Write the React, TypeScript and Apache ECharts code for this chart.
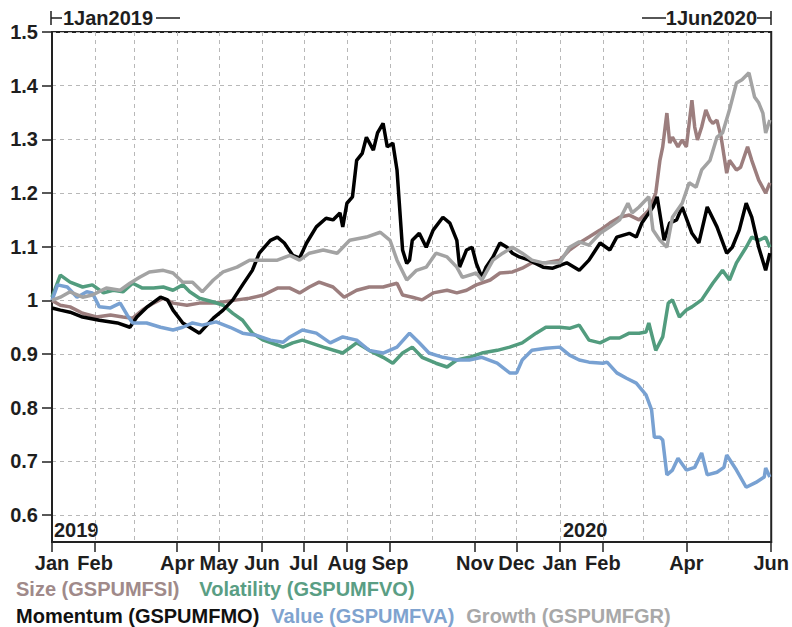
import React, { useEffect, useRef } from "react";
import * as echarts from "echarts";

const FONT = '"Liberation Sans", Arial, Helvetica, sans-serif';

const START_DATE = "2019-01-01";
const END_DATE = "2020-06-01";
const MONTH_NAMES = ["Jan", "Feb", "Mar", "Apr", "May", "Jun", "Jul", "Aug", "Sep", "Oct", "Nov", "Dec"];
const LABELED_MONTHS = [
  "2019-01", "2019-02", "2019-04", "2019-05", "2019-06", "2019-07", "2019-08", "2019-09",
  "2019-11", "2019-12", "2020-01", "2020-02", "2020-04", "2020-06",
];
const Y_TICKS = [0.6, 0.7, 0.8, 0.9, 1, 1.1, 1.2, 1.3, 1.4, 1.5];

const SERIES_NAMES = [
  "Size (GSPUMFSI)",
  "Volatility (GSPUMFVO)",
  "Momentum (GSPUMFMO)",
  "Value (GSPUMFVA)",
  "Growth (GSPUMFGR)",
];
const SERIES_COLORS = ["#9c7e7e", "#529c7e", "#000000", "#78a1d2", "#a3a3a3"];
const LEGEND_COLORS = ["#a08a8a", "#5a9e84", "#111111", "#7fa3cf", "#a8a8a8"];

const sizeData: [string, number][] = [
  ["2019-01-01", 1.0], ["2019-01-07", 0.991], ["2019-01-14", 0.988], ["2019-01-23", 0.976],
  ["2019-02-02", 0.969], ["2019-02-12", 0.973], ["2019-02-21", 0.969], ["2019-02-28", 0.967],
  ["2019-03-07", 0.982], ["2019-03-15", 0.995], ["2019-03-22", 1.004], ["2019-03-29", 0.995],
  ["2019-04-08", 0.991], ["2019-04-17", 0.995], ["2019-04-27", 0.995], ["2019-05-04", 0.997],
  ["2019-05-14", 1.001], ["2019-05-23", 1.004], ["2019-06-02", 1.01], ["2019-06-12", 1.023],
  ["2019-06-21", 1.023], ["2019-06-28", 1.014], ["2019-07-05", 1.025], ["2019-07-12", 1.034],
  ["2019-07-22", 1.025], ["2019-07-30", 1.006], ["2019-08-08", 1.019], ["2019-08-17", 1.025],
  ["2019-08-27", 1.025], ["2019-09-06", 1.032], ["2019-09-10", 1.01], ["2019-09-17", 1.006],
  ["2019-09-24", 1.001], ["2019-10-02", 1.014], ["2019-10-12", 1.019], ["2019-10-19", 1.014],
  ["2019-10-26", 1.019], ["2019-11-02", 1.029], ["2019-11-12", 1.038], ["2019-11-19", 1.051],
  ["2019-11-28", 1.053], ["2019-12-05", 1.06], ["2019-12-12", 1.07], ["2019-12-22", 1.07],
  ["2020-01-01", 1.075], ["2020-01-08", 1.094], ["2020-01-15", 1.107], ["2020-01-22", 1.118],
  ["2020-01-30", 1.131], ["2020-02-06", 1.144], ["2020-02-13", 1.155], ["2020-02-20", 1.159],
  ["2020-02-27", 1.15], ["2020-03-05", 1.168], ["2020-03-10", 1.2], ["2020-03-13", 1.261],
  ["2020-03-15", 1.286], ["2020-03-18", 1.349], ["2020-03-20", 1.293], ["2020-03-22", 1.304],
  ["2020-03-26", 1.286], ["2020-03-29", 1.299], ["2020-04-01", 1.286], ["2020-04-05", 1.373],
  ["2020-04-07", 1.323], ["2020-04-09", 1.299], ["2020-04-12", 1.323], ["2020-04-15", 1.355],
  ["2020-04-18", 1.336], ["2020-04-20", 1.33], ["2020-04-23", 1.336], ["2020-04-26", 1.304],
  ["2020-04-30", 1.237], ["2020-05-02", 1.261], ["2020-05-07", 1.243], ["2020-05-10", 1.248],
  ["2020-05-15", 1.286], ["2020-05-18", 1.261], ["2020-05-23", 1.224], ["2020-05-28", 1.2],
  ["2020-05-31", 1.219],
];

const volatilityData: [string, number][] = [
  ["2019-01-01", 1.006], ["2019-01-07", 1.047], ["2019-01-14", 1.034], ["2019-01-23", 1.025],
  ["2019-01-30", 1.029], ["2019-02-07", 1.014], ["2019-02-14", 1.019], ["2019-02-21", 1.016],
  ["2019-02-28", 1.032], ["2019-03-07", 1.023], ["2019-03-15", 1.023], ["2019-03-22", 1.025],
  ["2019-03-29", 1.019], ["2019-04-05", 1.029], ["2019-04-10", 1.016], ["2019-04-17", 1.004],
  ["2019-04-27", 0.997], ["2019-05-04", 0.991], ["2019-05-11", 0.976], ["2019-05-18", 0.963],
  ["2019-05-25", 0.939], ["2019-06-02", 0.926], ["2019-06-12", 0.917], ["2019-06-16", 0.913],
  ["2019-06-23", 0.921], ["2019-06-30", 0.926], ["2019-07-15", 0.913], ["2019-07-29", 0.902],
  ["2019-08-08", 0.921], ["2019-08-17", 0.907], ["2019-08-27", 0.894], ["2019-09-03", 0.883],
  ["2019-09-10", 0.902], ["2019-09-17", 0.913], ["2019-09-24", 0.894], ["2019-10-04", 0.883],
  ["2019-10-12", 0.876], ["2019-10-19", 0.889], ["2019-10-28", 0.894], ["2019-11-06", 0.902],
  ["2019-11-17", 0.907], ["2019-11-26", 0.913], ["2019-12-05", 0.921], ["2019-12-15", 0.939],
  ["2019-12-22", 0.95], ["2020-01-01", 0.95], ["2020-01-08", 0.948], ["2020-01-15", 0.954],
  ["2020-01-22", 0.926], ["2020-01-30", 0.921], ["2020-02-06", 0.93], ["2020-02-13", 0.93],
  ["2020-02-20", 0.939], ["2020-02-27", 0.939], ["2020-03-03", 0.941], ["2020-03-05", 0.958],
  ["2020-03-10", 0.907], ["2020-03-15", 0.932], ["2020-03-19", 0.995], ["2020-03-22", 1.001],
  ["2020-03-27", 0.969], ["2020-04-01", 0.982], ["2020-04-05", 0.988], ["2020-04-12", 1.001],
  ["2020-04-20", 1.032], ["2020-04-27", 1.056], ["2020-05-02", 1.038], ["2020-05-07", 1.07],
  ["2020-05-14", 1.099], ["2020-05-18", 1.118], ["2020-05-23", 1.112], ["2020-05-28", 1.118],
  ["2020-05-31", 1.099],
];

const momentumData: [string, number][] = [
  ["2019-01-01", 0.986], ["2019-01-07", 0.982], ["2019-01-14", 0.978], ["2019-01-23", 0.969],
  ["2019-02-04", 0.963], ["2019-02-17", 0.958], ["2019-02-26", 0.95], ["2019-03-03", 0.969],
  ["2019-03-10", 0.987], ["2019-03-20", 1.006], ["2019-03-25", 1.001], ["2019-03-29", 0.982],
  ["2019-04-05", 0.958], ["2019-04-17", 0.939], ["2019-04-27", 0.967], ["2019-05-04", 0.982],
  ["2019-05-11", 1.001], ["2019-05-18", 1.029], ["2019-05-25", 1.056], ["2019-05-30", 1.088],
  ["2019-06-07", 1.112], ["2019-06-12", 1.118], ["2019-06-17", 1.107], ["2019-06-23", 1.084],
  ["2019-06-28", 1.079], ["2019-07-03", 1.107], ["2019-07-10", 1.137], ["2019-07-17", 1.153],
  ["2019-07-22", 1.15], ["2019-07-27", 1.163], ["2019-07-29", 1.137], ["2019-08-01", 1.181],
  ["2019-08-05", 1.193], ["2019-08-08", 1.261], ["2019-08-12", 1.274], ["2019-08-15", 1.304],
  ["2019-08-20", 1.28], ["2019-08-23", 1.312], ["2019-08-27", 1.33], ["2019-08-30", 1.286],
  ["2019-09-03", 1.293], ["2019-09-06", 1.243], ["2019-09-10", 1.094], ["2019-09-13", 1.069],
  ["2019-09-15", 1.075], ["2019-09-17", 1.112], ["2019-09-22", 1.125], ["2019-09-27", 1.099],
  ["2019-10-02", 1.131], ["2019-10-09", 1.155], ["2019-10-14", 1.144], ["2019-10-19", 1.112],
  ["2019-10-21", 1.062], ["2019-10-26", 1.094], ["2019-10-30", 1.099], ["2019-11-02", 1.069],
  ["2019-11-06", 1.043], ["2019-11-09", 1.062], ["2019-11-14", 1.081], ["2019-11-19", 1.107],
  ["2019-11-24", 1.099], ["2019-11-28", 1.088], ["2019-12-03", 1.081], ["2019-12-10", 1.075],
  ["2019-12-20", 1.062], ["2019-12-27", 1.06], ["2020-01-06", 1.07], ["2020-01-15", 1.056],
  ["2020-01-22", 1.075], ["2020-01-30", 1.107], ["2020-02-06", 1.094], ["2020-02-11", 1.118],
  ["2020-02-20", 1.125], ["2020-02-25", 1.118], ["2020-02-29", 1.144], ["2020-03-08", 1.174],
  ["2020-03-11", 1.193], ["2020-03-16", 1.112], ["2020-03-20", 1.144], ["2020-03-25", 1.15],
  ["2020-03-29", 1.174], ["2020-04-05", 1.125], ["2020-04-10", 1.107], ["2020-04-16", 1.174],
  ["2020-04-23", 1.137], ["2020-04-30", 1.088], ["2020-05-04", 1.099], ["2020-05-09", 1.131],
  ["2020-05-14", 1.181], ["2020-05-18", 1.155], ["2020-05-23", 1.099], ["2020-05-28", 1.056],
  ["2020-05-31", 1.088],
];

const valueData: [string, number][] = [
  ["2019-01-01", 1.0], ["2019-01-05", 1.029], ["2019-01-12", 1.025], ["2019-01-19", 1.006],
  ["2019-01-26", 1.016], ["2019-01-30", 1.014], ["2019-02-04", 0.988], ["2019-02-12", 0.986],
  ["2019-02-19", 0.995], ["2019-02-24", 0.973], ["2019-02-28", 0.958], ["2019-03-10", 0.958],
  ["2019-03-20", 0.95], ["2019-03-29", 0.945], ["2019-04-05", 0.95], ["2019-04-12", 0.958],
  ["2019-04-19", 0.954], ["2019-04-29", 0.96], ["2019-05-09", 0.95], ["2019-05-18", 0.939],
  ["2019-05-28", 0.935], ["2019-06-07", 0.926], ["2019-06-16", 0.922], ["2019-06-21", 0.932],
  ["2019-06-30", 0.945], ["2019-07-10", 0.939], ["2019-07-20", 0.921], ["2019-07-29", 0.932],
  ["2019-08-08", 0.926], ["2019-08-17", 0.907], ["2019-08-27", 0.902], ["2019-09-06", 0.913],
  ["2019-09-15", 0.939], ["2019-09-22", 0.921], ["2019-09-29", 0.902], ["2019-10-09", 0.894],
  ["2019-10-19", 0.889], ["2019-10-28", 0.889], ["2019-11-06", 0.894], ["2019-11-17", 0.883],
  ["2019-11-26", 0.865], ["2019-12-01", 0.865], ["2019-12-05", 0.889], ["2019-12-12", 0.907],
  ["2019-12-22", 0.911], ["2020-01-01", 0.913], ["2020-01-08", 0.898], ["2020-01-15", 0.889],
  ["2020-01-22", 0.885], ["2020-02-01", 0.883], ["2020-02-04", 0.885], ["2020-02-11", 0.865],
  ["2020-02-18", 0.855], ["2020-02-25", 0.846], ["2020-03-03", 0.824], ["2020-03-07", 0.796],
  ["2020-03-09", 0.745], ["2020-03-13", 0.745], ["2020-03-15", 0.74], ["2020-03-18", 0.675],
  ["2020-03-22", 0.684], ["2020-03-26", 0.706], ["2020-04-01", 0.684], ["2020-04-07", 0.689],
  ["2020-04-12", 0.716], ["2020-04-16", 0.675], ["2020-04-23", 0.68], ["2020-04-28", 0.689],
  ["2020-04-30", 0.712], ["2020-05-07", 0.684], ["2020-05-14", 0.652], ["2020-05-21", 0.661],
  ["2020-05-27", 0.671], ["2020-05-28", 0.688], ["2020-05-31", 0.671],
];

const growthData: [string, number][] = [
  ["2019-01-01", 1.0], ["2019-01-07", 1.006], ["2019-01-14", 1.016], ["2019-01-23", 1.006],
  ["2019-01-30", 1.01], ["2019-02-09", 1.023], ["2019-02-19", 1.019], ["2019-02-26", 1.032],
  ["2019-03-05", 1.043], ["2019-03-12", 1.053], ["2019-03-22", 1.056], ["2019-03-29", 1.051],
  ["2019-04-05", 1.034], ["2019-04-12", 1.034], ["2019-04-19", 1.016], ["2019-04-27", 1.038],
  ["2019-05-04", 1.053], ["2019-05-14", 1.062], ["2019-05-23", 1.075], ["2019-06-02", 1.075],
  ["2019-06-12", 1.075], ["2019-06-21", 1.084], ["2019-06-28", 1.075], ["2019-07-05", 1.088],
  ["2019-07-15", 1.094], ["2019-07-25", 1.088], ["2019-08-03", 1.112], ["2019-08-15", 1.118],
  ["2019-08-25", 1.127], ["2019-09-01", 1.112], ["2019-09-06", 1.075], ["2019-09-13", 1.038],
  ["2019-09-20", 1.056], ["2019-09-27", 1.062], ["2019-10-04", 1.088], ["2019-10-12", 1.081],
  ["2019-10-19", 1.062], ["2019-10-23", 1.043], ["2019-11-02", 1.051], ["2019-11-06", 1.038],
  ["2019-11-14", 1.075], ["2019-11-21", 1.088], ["2019-11-28", 1.099], ["2019-12-05", 1.088],
  ["2019-12-12", 1.075], ["2019-12-20", 1.07], ["2020-01-01", 1.07], ["2020-01-08", 1.099],
  ["2020-01-15", 1.109], ["2020-01-22", 1.103], ["2020-01-30", 1.125], ["2020-02-06", 1.137],
  ["2020-02-13", 1.15], ["2020-02-19", 1.181], ["2020-02-22", 1.163], ["2020-02-27", 1.174],
  ["2020-03-05", 1.193], ["2020-03-08", 1.131], ["2020-03-13", 1.112], ["2020-03-18", 1.099],
  ["2020-03-22", 1.155], ["2020-03-29", 1.181], ["2020-04-03", 1.219], ["2020-04-08", 1.211],
  ["2020-04-12", 1.243], ["2020-04-18", 1.261], ["2020-04-23", 1.304], ["2020-04-27", 1.312],
  ["2020-05-02", 1.355], ["2020-05-07", 1.405], ["2020-05-11", 1.411], ["2020-05-16", 1.424],
  ["2020-05-20", 1.379], ["2020-05-23", 1.368], ["2020-05-26", 1.349], ["2020-05-28", 1.312],
  ["2020-05-31", 1.336],
];

const SERIES_DATA = [sizeData, volatilityData, momentumData, valueData, growthData];

function buildDays(start: string, end: string): string[] {
  const out: string[] = [];
  const t0 = Date.parse(start + "T00:00:00Z");
  const t1 = Date.parse(end + "T00:00:00Z");
  for (let t = t0; t <= t1; t += 86400000) {
    out.push(new Date(t).toISOString().slice(0, 10));
  }
  return out;
}

export default function App() {
  const ref = useRef<HTMLDivElement>(null);

  useEffect(() => {
    if (!ref.current) return;
    const chart = echarts.init(ref.current, undefined, { renderer: "svg" });
    const days = buildDays(START_DATE, END_DATE);
    const last = days.length - 1;
    const isMonthStart = (v: string) => v.slice(8, 10) === "01";
    const isLabeled = (v: string) => isMonthStart(v) && LABELED_MONTHS.includes(v.slice(0, 7));
    const textColor = "#1e1e1e";
    const textFont = `bold 20px ${FONT}`;
    const legendText = { fontFamily: FONT, fontSize: 20, fontWeight: "bold" };

    chart.setOption({
      animation: false,
      backgroundColor: "#ffffff",
      grid: {
        left: 52,
        right: 20,
        top: 32,
        bottom: 85,
        show: true,
        borderColor: "#222222",
        borderWidth: 2,
        backgroundColor: "transparent",
      },
      xAxis: {
        type: "category",
        data: days,
        boundaryGap: false,
        axisLine: { show: true, lineStyle: { color: "#222222", width: 2 } },
        axisTick: {
          show: true,
          length: 10,
          lineStyle: { color: "#222222", width: 1.5 },
          interval: (_i: number, v: string) => isLabeled(v),
        },
        axisLabel: {
          show: true,
          interval: (_i: number, v: string) => isLabeled(v),
          formatter: (v: string) => MONTH_NAMES[parseInt(v.slice(5, 7), 10) - 1],
          fontFamily: FONT,
          fontSize: 20,
          fontWeight: "bold",
          color: textColor,
          margin: 11,
        },
        splitLine: {
          show: true,
          interval: (i: number, v: string) => isMonthStart(v) && i > 0 && i < last,
          lineStyle: { color: "#b8b8b8", type: [4, 4], width: 1 },
        },
      },
      yAxis: {
        type: "value",
        min: 0.55,
        max: 1.5,
        splitNumber: 10,
        axisLine: { show: true, lineStyle: { color: "#222222", width: 2 } },
        axisTick: {
          show: true,
          length: 10,
          customValues: Y_TICKS,
          lineStyle: { color: "#222222", width: 1.5 },
        },
        axisLabel: {
          show: true,
          customValues: Y_TICKS,
          formatter: (v: number) => (v < 0.58 ? "" : String(Math.round(v * 10) / 10)),
          fontFamily: FONT,
          fontSize: 20,
          fontWeight: "bold",
          color: textColor,
          margin: 14,
        },
        splitLine: {
          show: true,
          lineStyle: { color: "#b8b8b8", type: [4, 4], width: 1 },
        },
      },
      legend: [
        {
          data: SERIES_NAMES.slice(0, 2).map((n, i) => ({
            name: n,
            textStyle: { color: LEGEND_COLORS[i] },
          })),
          left: 11,
          top: 579,
          icon: "none",
          itemWidth: 0,
          itemHeight: 10,
          itemGap: 15,
          padding: 0,
          selectedMode: false,
          textStyle: legendText,
        },
        {
          data: SERIES_NAMES.slice(2).map((n, i) => ({
            name: n,
            textStyle: { color: LEGEND_COLORS[i + 2] },
          })),
          left: 11,
          top: 606,
          icon: "none",
          itemWidth: 0,
          itemHeight: 10,
          itemGap: 7,
          padding: 0,
          selectedMode: false,
          textStyle: legendText,
        },
      ],
      graphic: [
        { type: "line", shape: { x1: 51, y1: 11, x2: 51, y2: 25 }, style: { stroke: textColor, lineWidth: 1.5 } },
        { type: "line", shape: { x1: 51, y1: 18, x2: 62, y2: 18 }, style: { stroke: textColor, lineWidth: 1.5 } },
        {
          type: "text",
          x: 63,
          y: 18,
          style: { text: "1Jan2019", font: textFont, fill: textColor, verticalAlign: "middle", align: "left" },
        },
        { type: "line", shape: { x1: 156, y1: 18, x2: 180, y2: 18 }, style: { stroke: textColor, lineWidth: 1.5 } },
        { type: "line", shape: { x1: 642, y1: 18, x2: 666, y2: 18 }, style: { stroke: textColor, lineWidth: 1.5 } },
        {
          type: "text",
          x: 757,
          y: 18,
          style: { text: "1Jun2020", font: textFont, fill: textColor, verticalAlign: "middle", align: "right" },
        },
        { type: "line", shape: { x1: 757, y1: 18, x2: 771, y2: 18 }, style: { stroke: textColor, lineWidth: 1.5 } },
        { type: "line", shape: { x1: 771, y1: 11, x2: 771, y2: 25 }, style: { stroke: textColor, lineWidth: 1.5 } },
        {
          type: "text",
          x: 54,
          y: 530,
          style: { text: "2019", font: textFont, fill: textColor, verticalAlign: "middle", align: "left" },
        },
        {
          type: "text",
          x: 563,
          y: 530,
          style: { text: "2020", font: textFont, fill: textColor, verticalAlign: "middle", align: "left" },
        },
      ],
      series: SERIES_NAMES.map((name, i) => ({
        name,
        type: "line",
        data: SERIES_DATA[i],
        showSymbol: false,
        symbol: "none",
        connectNulls: true,
        lineStyle: { color: SERIES_COLORS[i], width: 3.5 },
        itemStyle: { color: SERIES_COLORS[i] },
        z: 2 + i,
      })),
    });

    return () => chart.dispose();
  }, []);

  return (
    <div
      ref={ref}
      style={{ position: "fixed", left: 0, top: 0, width: 792, height: 627, background: "#ffffff" }}
    />
  );
}
